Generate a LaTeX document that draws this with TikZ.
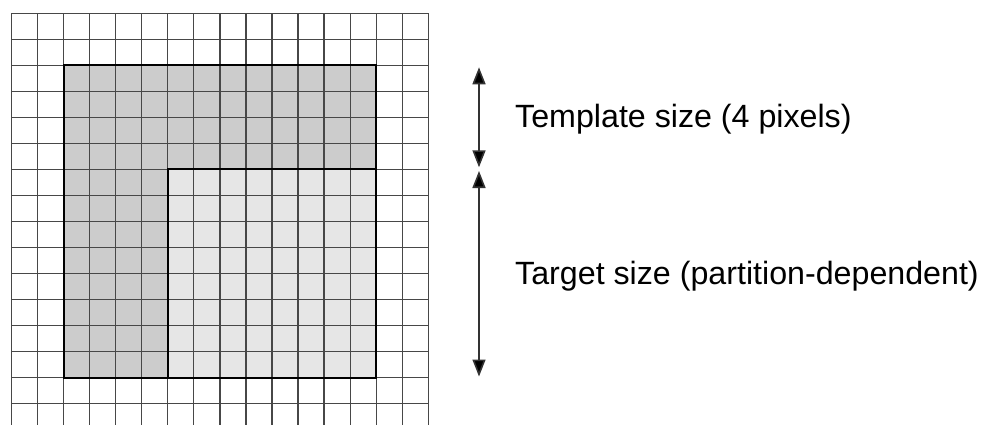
\documentclass[tikz,border=0pt]{standalone}
\usepackage{fontspec}
\setmainfont{Liberation Sans}
\usetikzlibrary{arrows.meta}
\definecolor{outerfill}{HTML}{CCCCCC}
\definecolor{innerfill}{HTML}{E6E6E6}
\tikzset{
  gridline/.style={draw=black!72, line width=1.15pt},
  regionedge/.style={draw=black, line width=2pt},
  sizearrow/.style={draw=black!80, line width=1.6pt,
    {Triangle[length=17pt,width=13pt,fill=black]}-{Triangle[length=17pt,width=13pt,fill=black]}},
  caption/.style={anchor=base west, inner sep=0pt,
    font=\fontsize{32.2}{37}\selectfont}
}
\begin{document}
\begin{tikzpicture}[x=1pt, y=-1pt]
  \useasboundingbox (0,0) rectangle (990,425);
  \clip (0,0) rectangle (990,425);
  % pixel grid geometry
  \def\gx{11.7}\def\gy{13.3}\def\cs{26.03}
  % shaded regions: template (outer L) and target (inner block)
  \fill[outerfill] ({\gx+2*\cs},{\gy+2*\cs}) rectangle ({\gx+14*\cs},{\gy+14*\cs});
  \fill[innerfill] ({\gx+6*\cs},{\gy+6*\cs}) rectangle ({\gx+14*\cs},{\gy+14*\cs});
  % grid lines
  \foreach \i in {0,...,16}
    \draw[gridline] ({\gx+\i*\cs},\gy) -- ({\gx+\i*\cs},440);
  \foreach \j in {0,...,15}
    \draw[gridline] (\gx,{\gy+\j*\cs}) -- ({\gx+16*\cs},{\gy+\j*\cs});
  % region outlines
  \draw[regionedge] ({\gx+2*\cs},{\gy+2*\cs}) rectangle ({\gx+14*\cs},{\gy+14*\cs});
  \draw[regionedge] ({\gx+6*\cs},{\gy+6*\cs}) rectangle ({\gx+14*\cs},{\gy+14*\cs});
  % dimension arrows
  \coordinate (tplTop) at (479,67.3);
  \coordinate (tplBot) at (479,167.3);
  \coordinate (tgtTop) at (479,171);
  \coordinate (tgtBot) at (479,376.5);
  \draw[sizearrow] (tplTop) -- (tplBot);
  \draw[sizearrow] (tgtTop) -- (tgtBot);
  % labels
  \node[caption] (tplLabel) at (515,127.5) {Template size (4 pixels)};
  \node[caption] (tgtLabel) at (515,284) {Target size (partition-dependent)};
\end{tikzpicture}
\end{document}
